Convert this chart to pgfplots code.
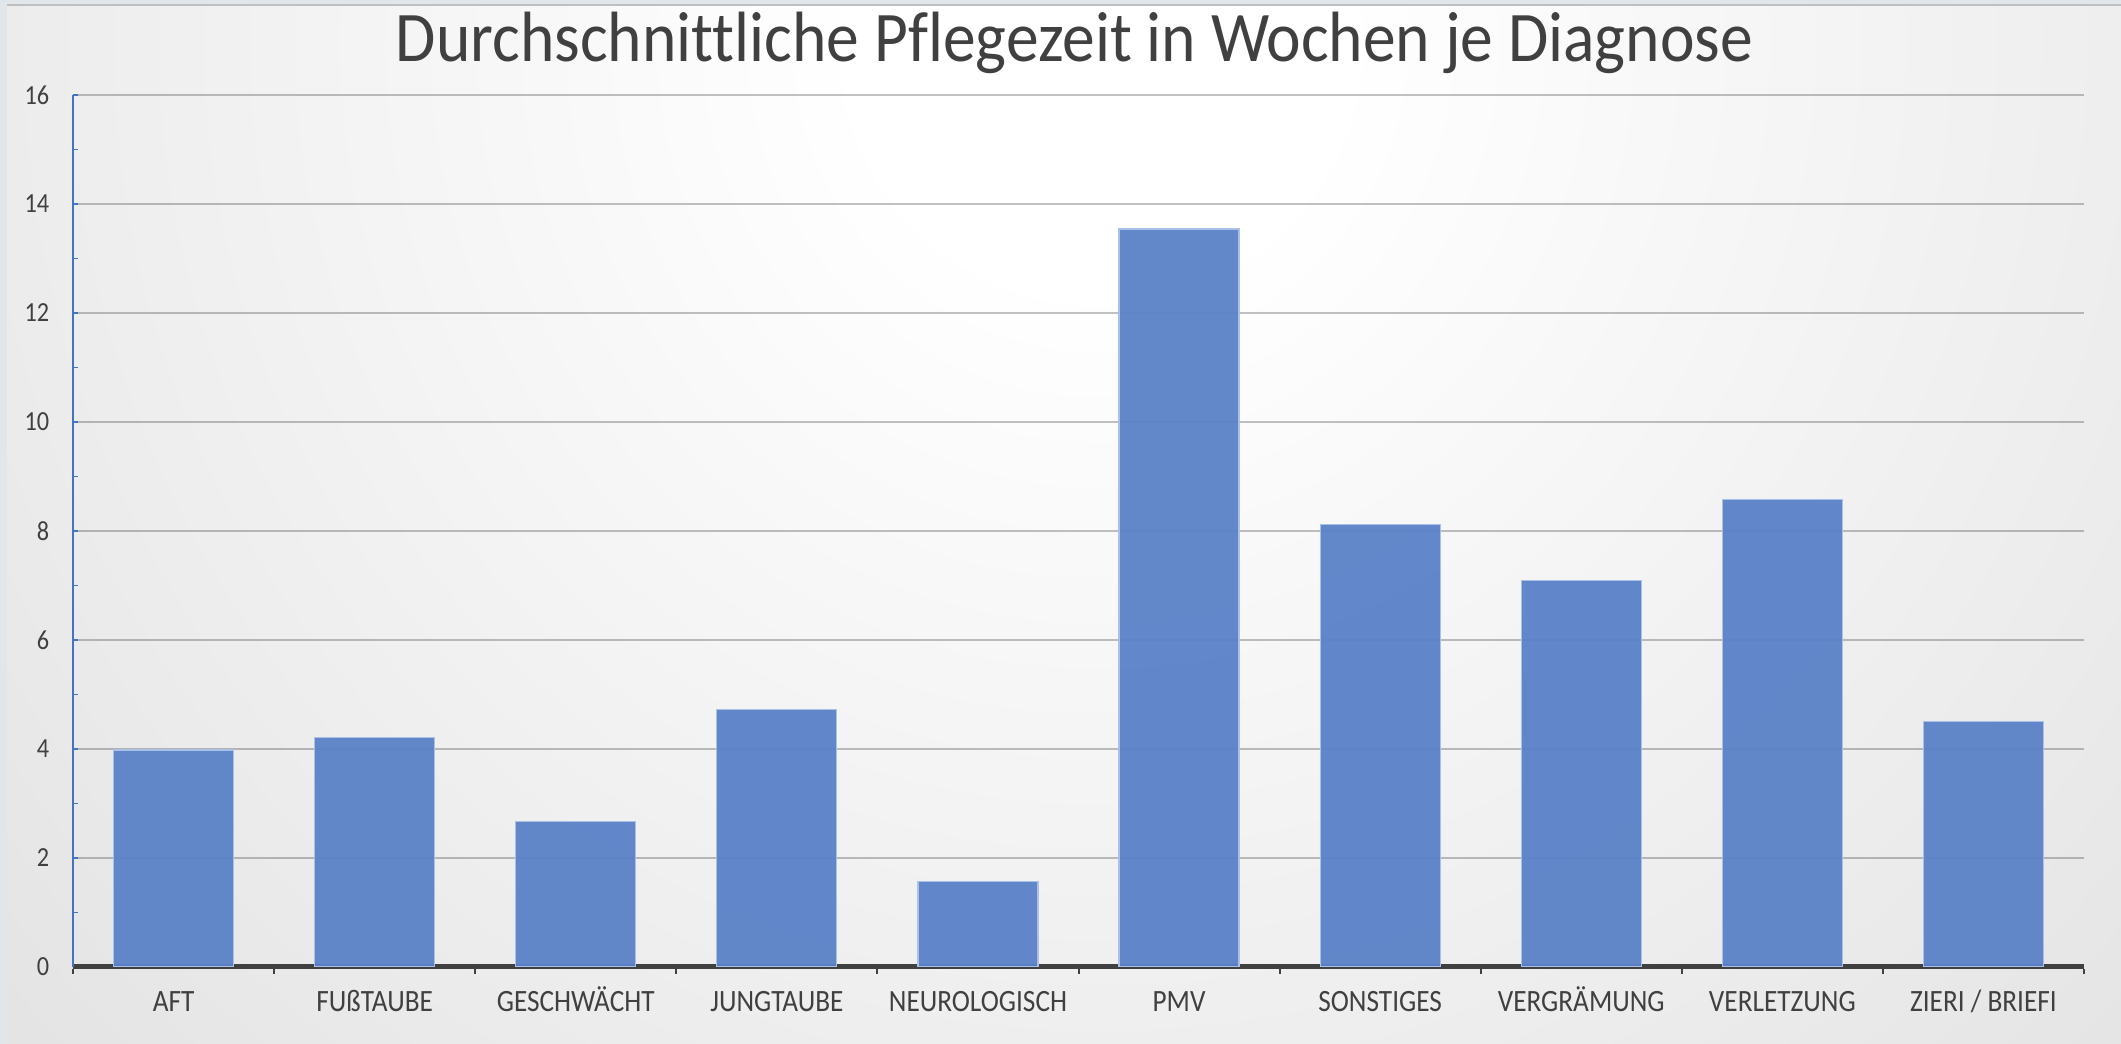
\documentclass[border=0pt]{standalone}
\usepackage{pgfplots}
\pgfplotsset{compat=1.18}
\usepackage{fontspec}
\setmainfont{Carlito}[FakeStretch=0.88, Ligatures=NoCommon]
\newfontfamily\titlefont{Carlito}[FakeStretch=0.92, Ligatures=NoCommon]
\definecolor{barblue}{HTML}{5A82C8}
\definecolor{baredge}{HTML}{A9C0E8}
\definecolor{txtgray}{HTML}{404040}
\definecolor{axisblue}{HTML}{4472C4}
\definecolor{framebg}{HTML}{E1E6EA}
\definecolor{bggray}{HTML}{C2C2C2}
\pgfdeclareradialshading{bgshade}{\pgfpoint{0bp}{0bp}}{color(0bp)=(white); color(4bp)=(white); color(50bp)=(bggray)}

\begin{document}
\begin{tikzpicture}
% background, 1 px = 0.25pt
\begin{scope}[x=0.25pt,y=0.25pt]
  \fill[framebg] (0,0) rectangle (2121,1044);
  \begin{scope}
    \clip (7,0) rectangle (2121,1039);
    \shade[shading=bgshade] (1100,1000) circle (1500);
  \end{scope}
  \draw[gray!50, line width=0.5pt] (7,1039) -- (2121,1039);
\end{scope}

\begin{axis}[
  at={(18.25pt,19.25pt)}, anchor=south west,
  scale only axis, width=502.75pt, height=218pt,
  xmin=-0.5, xmax=9.5, ymin=0, ymax=16,
  ybar, bar width=30pt,
  axis x line*=bottom, axis y line*=left,
  x axis line style={-, draw=txtgray, line width=1.25pt},
  y axis line style={-, draw=axisblue, line width=0.4pt},
  tick align=inside,
  major tick length=1.2pt, minor tick length=1.2pt,
  xtick={-0.5,0.5,...,8.5},
  xticklabels={AFT,FUßTAUBE,GESCHWÄCHT,JUNGTAUBE,NEUROLOGISCH,PMV,SONSTIGES,VERGRÄMUNG,VERLETZUNG,ZIERI / BRIEFI},
  extra x ticks={9.5},
  extra x tick labels={},
  x tick label style={font=\fontsize{7.75}{9}\selectfont, text=txtgray, anchor=base, xshift=25.14pt, yshift=-11.2pt},
  x tick style={draw=txtgray, line width=0.5pt, yshift=-1.7pt},
  ytick={0,2,...,16},
  minor ytick={1,3,...,15},
  y tick style={draw=axisblue, line width=0.4pt},
  y tick label style={font=\fontsize{6.9}{8}\selectfont, text=txtgray, anchor=east, inner sep=0pt, xshift=-5.75pt},
  /pgf/number format/assume math mode=true,
  ymajorgrids,
  major grid style={black, opacity=0.24, line width=0.5pt},
  title={\titlefont Durchschnittliche Pflegezeit in Wochen je Diagnose},
  title style={at={(0.498,1)}, anchor=base, yshift=2.3pt, font=\fontsize{17.8}{20}\selectfont, text=txtgray},
]
\addplot[fill=barblue, fill opacity=0.95, draw=baredge, line width=0.3pt] coordinates {
  (0,3.98) (1,4.21) (2,2.67) (3,4.73) (4,1.57)
  (5,13.54) (6,8.12) (7,7.09) (8,8.58) (9,4.50)
};
\end{axis}
\pgfresetboundingbox
\useasboundingbox (0,0) rectangle (530.25pt,261pt);
\end{tikzpicture}
\end{document}
